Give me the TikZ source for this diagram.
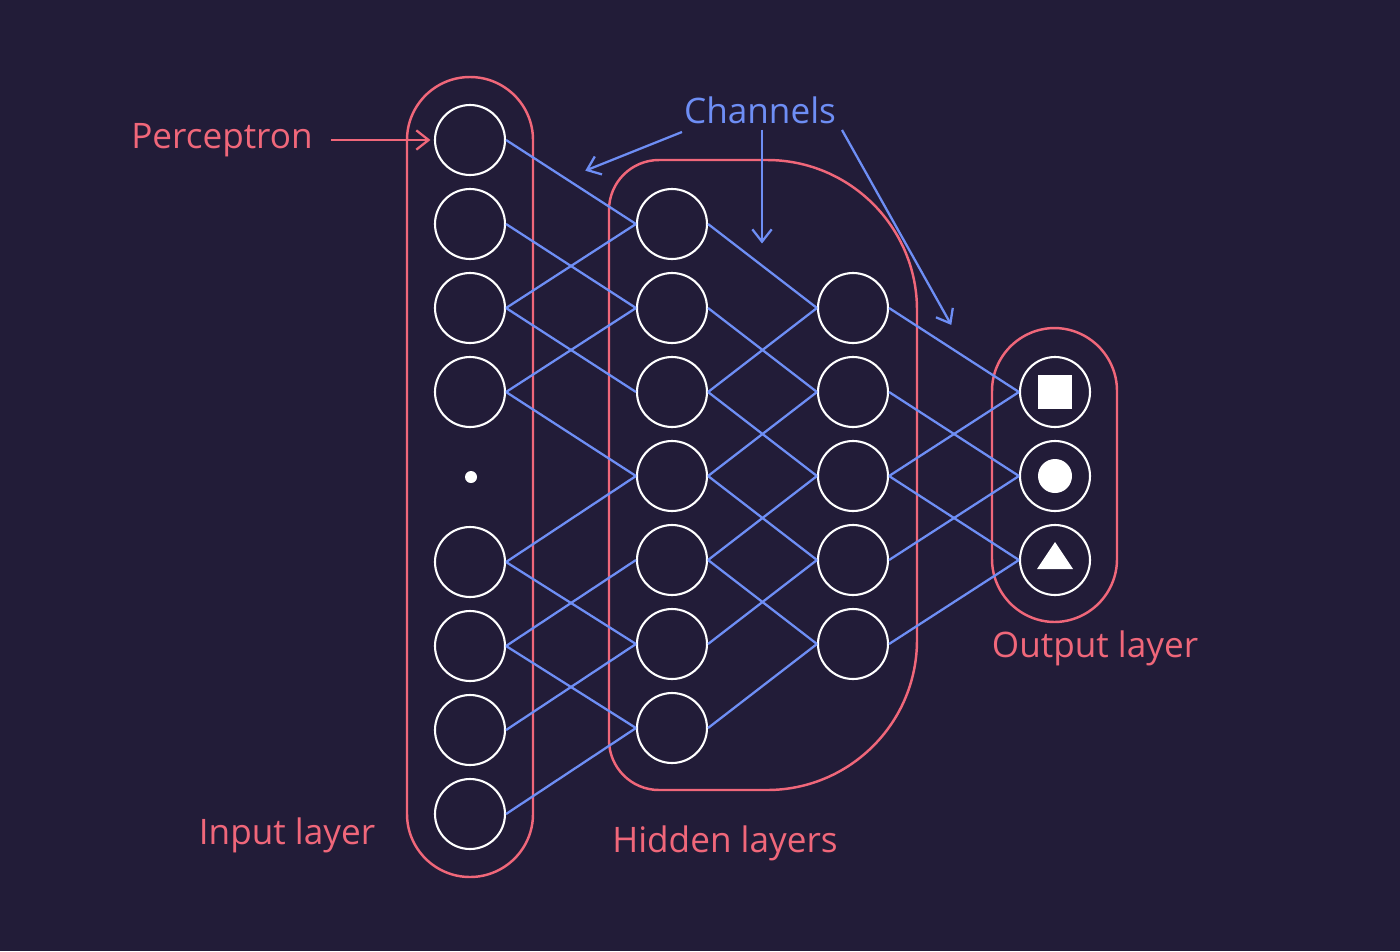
\documentclass[tikz,border=0pt]{standalone}
\usepackage{fontspec}
\setmainfont{Open Sans}
\usetikzlibrary{positioning,shapes.geometric,arrows.meta}
\definecolor{bg}{HTML}{221C38}
\definecolor{salmon}{HTML}{F0677A}
\definecolor{chan}{HTML}{6E8EF5}
\tikzset{
  neuron/.style={circle,draw=white,line width=1.2pt,minimum size=1.4cm,inner sep=0pt},
  layer/.style={draw=salmon,line width=1.4pt},
  channel/.style={draw=chan,line width=1.3pt},
  lbl/.style={font=\fontsize{20}{24}\selectfont},
  pointer/.style={-{Straight Barb[length=7pt,width=11pt]},line width=1.3pt,shorten >=2pt}
}
\begin{document}
\begin{tikzpicture}[x=0.02cm,y=-0.02cm]
    \fill[bg] (0,0) rectangle (1400,951);
    \useasboundingbox (0,0) rectangle (1400,951);
    % layer outlines
    \draw[layer,rounded corners=1.26cm] (407,77) rectangle (533,877);
    \draw[layer,rounded corners=1.26cm] (992,328) rectangle (1117,622);
    \draw[layer,rounded corners=1cm] (609,475) -- (609,160) -- (760,160);
    \draw[layer,rounded corners=3cm] (760,160) -- (917,160) -- (917,790) -- (760,790);
    \draw[layer,rounded corners=1cm] (760,790) -- (609,790) -- (609,475);
    % neurons
    \foreach \i/\y in {1/140,2/224,3/308,4/392,6/562,7/646,8/730,9/814}
        \node[neuron] (in\i) at (470,\y) {};
    \fill[white] (471,477) circle (6);
    \foreach \i/\y in {1/224,2/308,3/392,4/476,5/560,6/644,7/728}
        \node[neuron] (ha\i) at (672,\y) {};
    \foreach \i/\y in {1/308,2/392,3/476,4/560,5/644}
        \node[neuron] (hb\i) at (853,\y) {};
    \foreach \i/\y in {1/392,2/476,3/560}
        \node[neuron] (out\i) at (1055,\y) {};
    \fill[white] (1038,375) rectangle (1072,409);
    \fill[white] (out2) circle (17);
    \fill[white] (1055,542) -- (1073,569) -- (1037,569) -- cycle;
    % channels
    \foreach \a/\b in {1/1,2/2,3/1,3/3,4/2,4/4,6/4,6/6,7/5,7/7,8/6,9/7}
        \draw[channel] (in\a.east) -- (ha\b.west);
    \foreach \a/\b in {1/1,2/2,3/1,3/3,4/2,4/4,5/3,5/5,6/4,7/5}
        \draw[channel] (ha\a.east) -- (hb\b.west);
    \foreach \a/\b in {1/1,2/2,3/1,3/3,4/2,5/3}
        \draw[channel] (hb\a.east) -- (out\b.west);
    % labels
    \node[lbl,text=salmon] (percep) at (222,140) {Perceptron};
    \draw[pointer,salmon] (percep.east) ++(12,0) -- (in1.west);
    \node[lbl,text=chan] (chans) at (760,110) {Channels};
    \coordinate (c1) at (582,172);
    \coordinate (c2) at (762,247);
    \coordinate (c3) at (953,328);
    \draw[pointer,chan] (682,132) -- (c1);
    \draw[pointer,chan] (chans.south) ++(2,0) -- (c2);
    \draw[pointer,chan] (842,130) -- (c3);
    \node[lbl,text=salmon] (inlbl) at (287,835) {Input layer};
    \node[lbl,text=salmon] (hidlbl) at (725,843) {Hidden layers};
    \node[lbl,text=salmon] (outlbl) at (1095,648) {Output layer};
\end{tikzpicture}
\end{document}
